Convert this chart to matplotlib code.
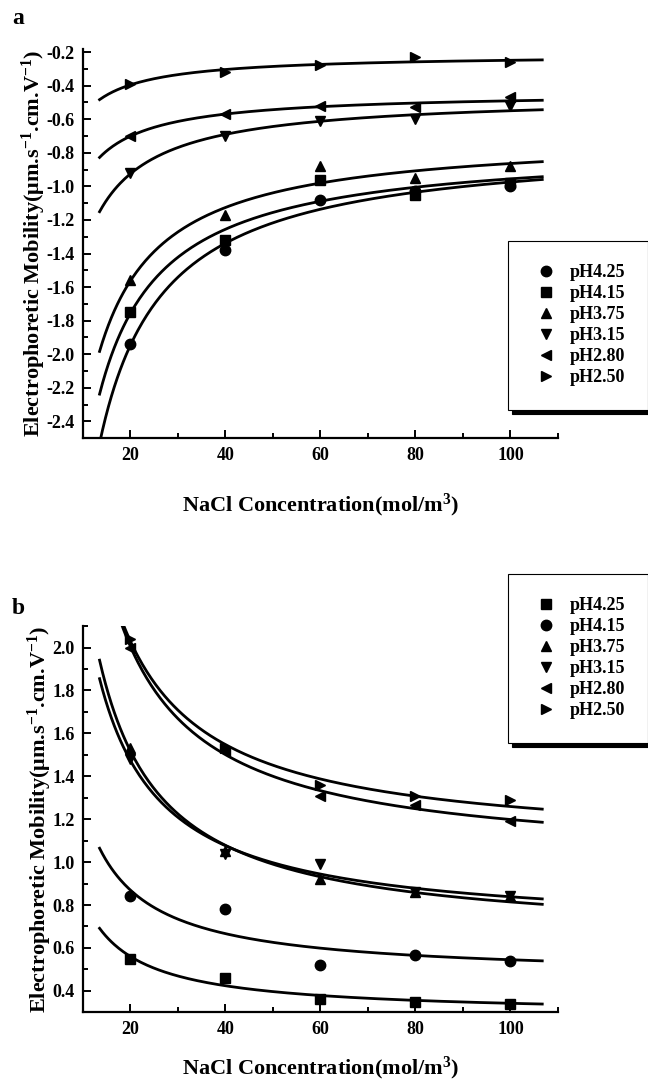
import numpy as np
from matplotlib import pyplot as plt
from matplotlib.ticker import MultipleLocator, FormatStrFormatter

plt.rcParams['font.family'] = ['Liberation Serif', 'DejaVu Serif']
plt.rcParams['font.weight'] = 'bold'
plt.rcParams['axes.unicode_minus'] = False
plt.rcParams['mathtext.fontset'] = 'custom'
plt.rcParams['mathtext.rm'] = 'Liberation Serif:bold'
plt.rcParams['mathtext.bf'] = 'Liberation Serif:bold'
plt.rcParams['mathtext.it'] = 'Liberation Serif:bold:italic'

# NaCl concentration (mol/m3)
conc = [20, 40, 60, 80, 100]

# panel a: electrophoretic mobility
a_labels = ['pH4.25', 'pH4.15', 'pH3.75', 'pH3.15', 'pH2.80', 'pH2.50']
a_markers = ['o', 's', '^', 'v', '<', '>']
a_ph425 = [-1.94, -1.38, -1.08, -1.03, -1.00]
a_ph415 = [-1.75, -1.32, -0.96, -1.05, -0.98]
a_ph375 = [-1.56, -1.17, -0.88, -0.95, -0.88]
a_ph315 = [-0.92, -0.70, -0.61, -0.60, -0.52]
a_ph280 = [-0.70, -0.57, -0.52, -0.53, -0.47]
a_ph250 = [-0.39, -0.32, -0.28, -0.23, -0.26]

# panel b
b_labels = ['pH4.25', 'pH4.15', 'pH3.75', 'pH3.15', 'pH2.80', 'pH2.50']
b_markers = ['s', 'o', '^', 'v', '<', '>']
b_ph425 = [0.55, 0.46, 0.36, 0.35, 0.34]
b_ph415 = [0.84, 0.78, 0.52, 0.565, 0.54]
b_ph375 = [1.53, 1.05, 0.92, 0.86, 0.84]
b_ph315 = [1.48, 1.04, 0.99, 0.86, 0.84]
b_ph280 = [2.00, 1.52, 1.31, 1.265, 1.19]
b_ph250 = [2.04, 1.53, 1.36, 1.31, 1.29]

a_series = [a_ph425, a_ph415, a_ph375, a_ph315, a_ph280, a_ph250]
b_series = [b_ph425, b_ph415, b_ph375, b_ph315, b_ph280, b_ph250]

FIT_RANGE = (13.5, 106.7)


def draw_panel(ax, series, markers, labels, xpad):
    x = np.array(conc, dtype=float)
    xf = np.linspace(FIT_RANGE[0], FIT_RANGE[1], 300)
    handles = []
    for ys, m, lab in zip(series, markers, labels):
        # fitted curve y = a + b/x (least squares on the data)
        b, a = np.polyfit(1.0 / x, np.array(ys), 1)
        ax.plot(xf, a + b / xf, color='black', lw=2.0, zorder=2)
        h, = ax.plot(x, ys, ls='none', marker=m, color='black',
                     ms=7.5 if m != 's' else 7, zorder=3, label=lab)
        handles.append(h)
    ax.set_xlim(10, 110)
    ax.xaxis.set_major_locator(MultipleLocator(20))
    ax.xaxis.set_minor_locator(MultipleLocator(10))
    ax.yaxis.set_major_locator(MultipleLocator(0.2))
    ax.yaxis.set_minor_locator(MultipleLocator(0.1))
    ax.yaxis.set_major_formatter(FormatStrFormatter('%.1f'))
    ax.spines['top'].set_visible(False)
    ax.spines['right'].set_visible(False)
    for s in ('left', 'bottom'):
        ax.spines[s].set_linewidth(1.6)
    ax.tick_params(which='both', direction='in', width=1.4, labelsize=13, pad=6)
    ax.tick_params(which='major', length=6)
    ax.tick_params(which='minor', length=3.5)
    for t in ax.get_xticklabels() + ax.get_yticklabels():
        t.set_fontweight('bold')
    ax.set_xlabel('NaCl Concentration(mol/m$^{3}$)', fontsize=16,
                  fontweight='bold', labelpad=xpad)
    ax.set_ylabel('Electrophoretic Mobility(\u03bcm.s$^{-1}$.cm.V$^{-1}$)',
                  fontsize=16, fontweight='bold', labelpad=-1)
    return handles


fig = plt.figure(figsize=(6.48, 10.82), dpi=100)
ax1 = fig.add_axes([0.128, 0.595, 0.733, 0.36])
ax2 = fig.add_axes([0.128, 0.0644, 0.733, 0.357])

h1 = draw_panel(ax1, a_series, a_markers, a_labels, 20)
ax1.set_ylim(-2.5, -0.18)
h2 = draw_panel(ax2, b_series, b_markers, b_labels, 12)
ax2.set_ylim(0.3, 2.1)

leg_kw = dict(frameon=True, fancybox=False,
              shadow={'color': 'black', 'alpha': 1, 'ox': 3, 'oy': -3},
              prop={'family': 'Liberation Serif', 'weight': 'bold', 'size': 13},
              handletextpad=0.5, labelspacing=0.22, borderpad=1.3,
              borderaxespad=0, handlelength=1.6,
              edgecolor='black', framealpha=1, loc='upper left')
l1 = fig.legend(handles=h1, bbox_to_anchor=(508 / 648, 1 - 241 / 1082), **leg_kw)
l2 = fig.legend(handles=h2, bbox_to_anchor=(508 / 648, 1 - 574 / 1082), **leg_kw)
for l in (l1, l2):
    l.get_frame().set_linewidth(0.8)

fig.text(12 / 648, 1 - 18 / 1082, 'a', fontsize=17, fontweight='bold', va='center')
fig.text(12 / 648, 1 - 608 / 1082, 'b', fontsize=17, fontweight='bold', va='center')

fig.savefig('out.png', dpi=100)
